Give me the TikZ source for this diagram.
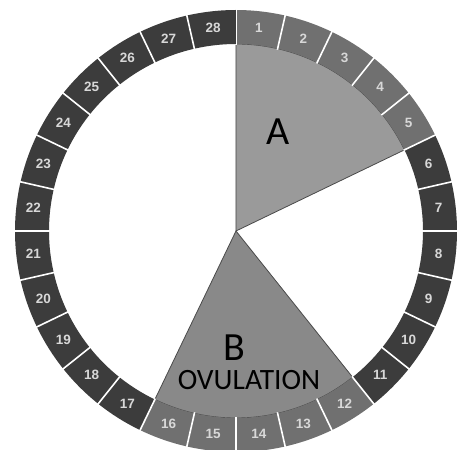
\documentclass[tikz,border=0pt]{standalone}
\usepackage{fontspec}
\setmainfont{Carlito}
\newfontfamily\numfont{Liberation Sans}
\usepackage{tikz}
\usetikzlibrary{calc}
\definecolor{darkseg}{HTML}{3C3C3C}
\definecolor{lightseg}{HTML}{707070}
\definecolor{phasea}{HTML}{9A9A9A}
\definecolor{phaseb}{HTML}{898989}
\definecolor{edgec}{HTML}{4A4A4A}
\definecolor{numc}{HTML}{D8D8D8}
\tikzset{
  sepline/.style={draw=white,line width=1.6pt},
  daynum/.style={font=\numfont\bfseries\fontsize{13.5}{13.5}\selectfont,text=numc,inner sep=0pt},
  phase/.style={draw=edgec,line width=0.8pt},
  biglbl/.style={font=\fontsize{40}{40}\selectfont,inner sep=0pt},
  sublbl/.style={font=\fontsize{29.5}{29.5}\selectfont,inner sep=0pt}
}

\begin{document}
\begin{tikzpicture}[x=1pt,y=1pt]
\useasboundingbox (-236,-219) rectangle (231,231);
% phases
\filldraw[phase,fill=phasea] (0,0) -- (90:187) arc[start angle=90,end angle=90-5*360/28,radius=187] -- cycle;
\filldraw[phase,fill=phaseb] (0,0) -- (90-11*360/28:187) arc[start angle=90-11*360/28,end angle=90-16*360/28,radius=187] -- cycle;
% ring of days
\foreach \d in {1,...,28}{
  \pgfmathsetmacro{\sa}{90-(\d-1)*360/28}
  \pgfmathsetmacro{\ea}{90-\d*360/28}
  \pgfmathsetmacro{\ma}{90-(\d-0.5)*360/28}
  \pgfmathtruncatemacro{\lit}{(\d<6) || (\d>11 && \d<17)}
  \ifnum\lit=1 \def\fc{lightseg}\else\def\fc{darkseg}\fi
  \fill[\fc] (\sa:221) arc[start angle=\sa,end angle=\ea,radius=221] -- (\ea:187) arc[start angle=\ea,end angle=\sa,radius=187] -- cycle;
  \draw[sepline] (\sa:186) -- (\sa:222);
  \node[daynum] (d\d) at (\ma:204) {\d};
}
% labels
\node[biglbl] (lblA) at (42,99) {A};
\node[biglbl] (lblB) at (-2,-117) {B};
\node[sublbl] (lblOv) at (13,-149) {OVULATION};
\end{tikzpicture}
\end{document}
